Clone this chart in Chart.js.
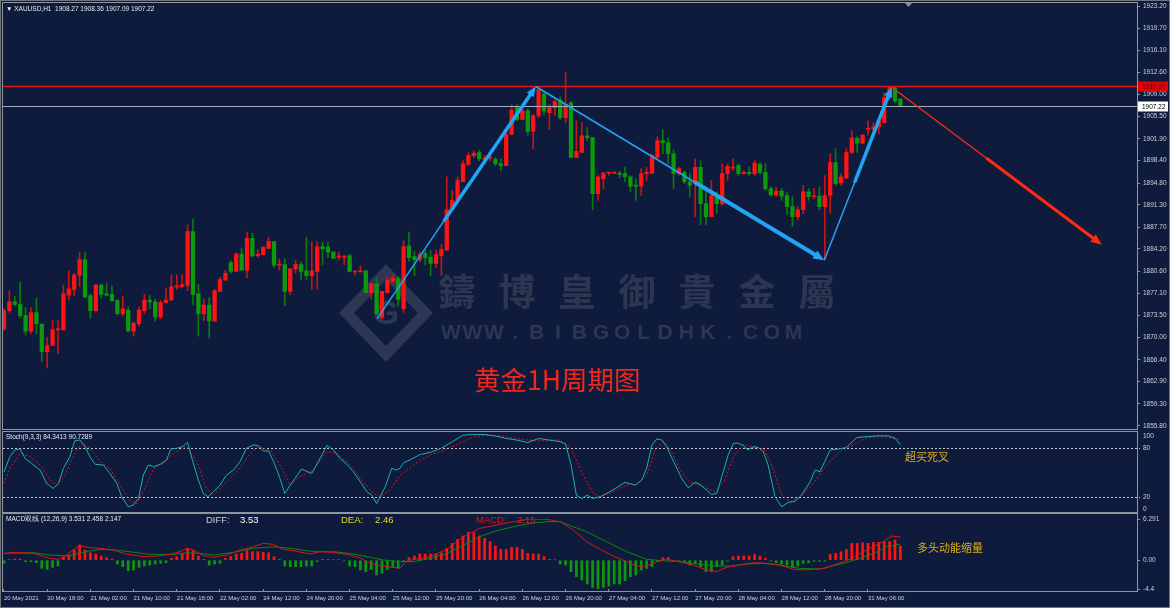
<!DOCTYPE html>
<html>
<head>
<meta charset="utf-8">
<script src="https://cdn.jsdelivr.net/npm/chart.js@4.4.1/dist/chart.umd.min.js"></script>
<style>
html,body{margin:0;padding:0;background:#0f1b3c;}
#wrap{position:relative;width:1170px;height:608px;overflow:hidden;background:#0f1b3c;}
#wrap canvas{position:absolute;left:0;}
.fr{position:absolute;box-sizing:border-box;border:1px solid #9096a0;pointer-events:none;}
</style>
</head>
<body>
<div id="wrap">
<canvas id="cMain" width="1170" height="432" style="top:0px"></canvas>
<canvas id="cStoch" width="1170" height="86" style="top:430px"></canvas>
<canvas id="cMacd" width="1170" height="96" style="top:512px"></canvas>
<div class="fr" style="left:0;top:0;width:1170px;height:608px;border-color:#6f747e"></div>
<div class="fr" style="left:2px;top:2px;width:1136px;height:428px"></div>
<div class="fr" style="left:2px;top:431px;width:1136px;height:82px"></div>
<div class="fr" style="left:2px;top:513px;width:1136px;height:79px"></div>
</div>
<script>
// ---------------- DATA ----------------
const opens=[1871.4,1874.3,1875.7,1875.3,1873.5,1871.0,1874.0,1872.1,1867.7,1868.7,
1871.2,1871.2,1876.8,1877.7,1880.0,1882.5,1876.7,1874.3,1878.4,1877.0,
1876.9,1875.9,1873.8,1874.4,1871.0,1872.2,1874.3,1876.0,1875.7,1873.3,
1875.6,1876.0,1878.1,1878.2,1878.4,1887.0,1877.0,1873.8,1875.2,1872.6,
1877.4,1879.2,1882.0,1880.6,1883.4,1880.8,1885.9,1883.1,1883.3,1884.3,
1885.4,1881.6,1881.7,1877.4,1881.0,1881.7,1880.7,1879.9,1880.6,1884.6,
1884.5,1883.7,1882.9,1882.9,1883.1,1880.5,1880.5,1880.7,1877.2,1878.6,
1873.2,1877.2,1879.0,1879.4,1874.6,1884.7,1883.0,1882.5,1883.5,1882.9,
1881.9,1883.1,1884.0,1890.5,1892.0,1895.0,1897.8,1899.2,1899.7,1898.6,
1898.8,1898.6,1897.9,1897.6,1902.6,1906.9,1905.0,1906.4,1903.1,1905.6,
1909.1,1906.1,1906.9,1908.1,1905.3,1907.7,1898.9,1899.7,1902.4,1902.1,
1893.1,1895.5,1896.4,1896.4,1896.4,1896.3,1895.8,1894.4,1894.3,1896.3,
1896.4,1898.9,1901.6,1901.3,1899.5,1896.3,1896.5,1895.0,1894.7,1897.3,
1891.5,1889.4,1892.6,1891.5,1896.3,1897.2,1897.6,1896.3,1896.5,1896.3,
1897.8,1896.5,1893.9,1892.9,1893.5,1892.8,1891.0,1889.4,1890.5,1893.4,
1892.6,1892.7,1891.0,1892.8,1898.1,1894.8,1895.6,1899.7,1902.0,1901.2,
1903.4,1903.5,1903.8,1904.5,1908.5,1910.1,1908.27];
const highs=[1874.6,1877.5,1876.6,1878.9,1874.8,1874.8,1876.3,1872.2,1870.0,1872.7,
1872.7,1878.4,1880.7,1880.3,1883.7,1883.7,1877.0,1878.5,1878.5,1878.7,
1878.3,1876.1,1876.6,1874.9,1872.5,1874.9,1876.9,1876.8,1876.1,1875.9,
1877.9,1880.0,1880.0,1880.1,1888.1,1889.1,1878.5,1876.1,1876.4,1877.7,
1879.7,1880.8,1882.3,1883.6,1884.4,1886.9,1886.7,1884.1,1884.5,1886.1,
1885.4,1882.6,1882.6,1881.0,1882.4,1882.1,1886.1,1885.4,1885.4,1885.3,
1885.3,1883.8,1883.7,1883.1,1883.4,1880.7,1881.4,1880.7,1878.6,1879.7,
1877.4,1879.7,1880.1,1879.8,1885.5,1886.9,1883.8,1883.7,1884.1,1884.0,
1884.0,1884.9,1895.8,1893.6,1895.8,1898.4,1899.7,1900.0,1900.1,1899.2,
1899.2,1898.9,1898.7,1903.2,1907.4,1907.4,1906.9,1906.7,1905.8,1910.3,
1909.5,1907.4,1908.5,1908.7,1912.6,1907.9,1904.8,1904.5,1903.7,1902.1,
1896.0,1896.5,1896.5,1896.5,1896.7,1897.4,1896.0,1895.5,1897.1,1897.3,
1899.5,1902.2,1903.4,1902.1,1900.1,1897.3,1896.8,1896.3,1898.7,1898.4,
1894.2,1895.2,1893.4,1897.9,1897.9,1898.7,1897.9,1896.8,1897.3,1898.4,
1898.1,1897.9,1894.2,1894.1,1893.9,1893.4,1892.6,1891.0,1894.4,1893.9,
1893.9,1894.2,1896.0,1899.5,1900.3,1896.3,1900.3,1903.2,1902.2,1902.6,
1904.8,1904.5,1905.3,1909.3,1910.3,1910.3,1908.36];
const lows=[1871.1,1874.0,1875.1,1873.1,1870.4,1870.6,1870.6,1866.1,1865.1,1868.7,
1867.4,1871.2,1876.0,1876.7,1878.2,1876.3,1873.1,1874.0,1876.3,1876.8,
1875.8,1873.6,1873.4,1871.0,1870.2,1871.8,1873.8,1874.6,1872.6,1873.0,
1875.5,1875.9,1877.7,1878.0,1877.5,1875.3,1870.2,1872.7,1869.9,1872.6,
1877.4,1879.2,1880.3,1880.6,1880.8,1879.6,1882.9,1882.9,1883.3,1884.3,
1881.2,1880.8,1875.1,1876.9,1880.3,1879.3,1879.3,1877.7,1877.7,1881.7,
1882.8,1882.7,1882.5,1881.7,1880.5,1880.0,1880.5,1877.1,1876.1,1873.6,
1873.0,1877.2,1878.8,1875.0,1874.0,1882.2,1879.9,1882.1,1881.7,1879.9,
1881.2,1879.9,1884.0,1890.7,1891.5,1895.0,1897.6,1898.9,1898.4,1898.4,
1898.4,1897.6,1896.8,1897.6,1902.6,1904.8,1904.9,1902.5,1900.3,1905.3,
1905.8,1903.4,1905.6,1905.0,1904.5,1898.9,1898.9,1899.7,1901.6,1890.5,
1892.0,1893.9,1896.0,1896.3,1895.6,1895.0,1893.4,1892.0,1892.8,1895.2,
1896.3,1898.9,1899.5,1897.9,1893.9,1896.0,1894.7,1892.6,1889.4,1888.1,
1888.1,1889.4,1889.9,1891.2,1895.2,1896.8,1896.0,1896.2,1896.0,1896.0,
1896.3,1893.6,1892.8,1892.6,1892.0,1889.7,1887.8,1888.9,1889.9,1892.0,
1892.3,1890.5,1882.5,1889.9,1894.4,1894.4,1895.5,1899.5,1899.7,1901.1,
1902.5,1902.7,1902.7,1904.5,1908.2,1907.7,1907.09];
const closes=[1874.3,1875.7,1875.3,1873.5,1871.0,1874.0,1872.2,1867.7,1868.7,1871.2,
1871.3,1877.0,1877.8,1880.0,1882.5,1876.5,1874.3,1878.4,1876.9,1876.8,
1875.9,1873.8,1874.6,1871.0,1872.3,1874.4,1876.0,1875.7,1873.3,1875.6,
1876.0,1878.1,1878.2,1878.5,1887.0,1876.9,1873.8,1875.2,1872.7,1877.5,
1879.3,1880.3,1880.6,1883.4,1880.8,1885.9,1883.1,1883.4,1884.5,1885.4,
1881.6,1881.7,1877.4,1881.0,1881.7,1880.6,1879.9,1880.7,1884.6,1884.2,
1883.7,1882.7,1883.0,1883.0,1880.6,1880.6,1880.7,1877.2,1878.6,1873.8,
1877.4,1879.2,1879.5,1876.1,1884.6,1882.8,1882.5,1883.3,1882.8,1881.9,
1883.3,1884.1,1890.5,1892.0,1895.2,1897.9,1899.2,1899.6,1898.7,1898.8,
1899.0,1897.9,1897.6,1902.6,1906.5,1905.0,1906.4,1903.1,1905.6,1909.8,
1906.4,1906.9,1907.9,1905.3,1907.4,1898.9,1899.9,1902.4,1902.1,1893.1,
1895.8,1896.4,1896.5,1896.5,1896.2,1895.8,1894.3,1894.3,1896.3,1896.5,
1899.2,1901.6,1901.3,1899.5,1896.3,1897.1,1895.0,1894.4,1897.3,1891.5,
1889.4,1892.8,1891.5,1896.3,1897.5,1897.3,1896.3,1896.5,1896.3,1898.0,
1896.5,1893.9,1892.9,1893.5,1892.7,1891.0,1889.4,1890.5,1893.4,1892.6,
1892.7,1891.0,1892.8,1898.1,1894.7,1895.8,1899.7,1902.0,1901.2,1902.5,
1903.6,1903.8,1904.8,1908.5,1910.2,1908.0,1907.22];

const priceTicks=[1923.20,1919.70,1916.10,1912.60,1909.00,1905.50,1901.90,1898.40,1894.80,1891.30,
1887.70,1884.20,1880.60,1877.10,1873.50,1870.00,1866.40,1862.90,1859.30,1855.80];
const xTickLabels=['20 May 2021','20 May 18:00','21 May 02:00','21 May 10:00','21 May 18:00','22 May 02:00',
'24 May 12:00','24 May 20:00','25 May 04:00','25 May 12:00','25 May 20:00','26 May 04:00','26 May 12:00',
'26 May 20:00','27 May 04:00','27 May 12:00','27 May 20:00','28 May 04:00','28 May 12:00','28 May 20:00','31 May 06:00'];

const macdHist=[-0.48,0.1,0.18,0.18,-0.23,-0.23,-0.38,-1.25,-1.40,-1.09,
-0.89,0.54,0.79,1.55,2.32,1.55,1.14,0.94,0.64,0.38,
0.18,-0.58,-0.99,-1.60,-1.50,-1.09,-0.89,-0.74,-0.58,-0.48,
-0.38,0.28,0.54,1.04,1.81,1.45,0.64,0.13,-0.74,-0.58,
-0.48,0.28,0.54,0.94,1.04,1.45,1.30,1.30,1.20,1.14,
0.54,0.13,-0.89,-0.99,-0.99,-0.99,-0.89,-0.89,-0.23,0.13,
0.13,0.08,0.08,-0.08,-0.89,-0.99,-1.50,-1.75,-1.40,-2.26,
-2.01,-1.40,-1.09,-1.25,-0.13,0.38,0.64,0.94,0.94,0.94,
0.94,1.14,1.81,2.57,3.18,3.69,4.25,4.20,3.69,3.33,
2.83,2.16,1.65,1.65,1.96,1.96,1.65,1.04,0.94,0.94,
0.54,0.13,0.05,-0.58,-0.74,-1.75,-2.52,-3.03,-3.64,-4.15,
-4.40,-4.15,-3.94,-3.64,-3.64,-3.13,-2.52,-2.26,-1.50,-1.25,
-0.99,-0.23,0.38,0.38,-0.08,-0.08,-0.38,-0.74,-0.48,-0.99,
-1.75,-1.75,-0.99,-0.74,-0.13,0.54,0.64,0.64,0.64,0.89,
0.64,0.28,-0.13,-0.38,-0.58,-0.74,-1.09,-0.89,-0.48,-0.38,
-0.18,-0.18,-0.18,0.89,1.04,1.30,1.65,2.57,2.57,2.67,
2.57,2.72,2.72,2.83,2.83,3.08,2.147];
const diffPts=[[0,1.04],[1.7,1.2],[5.4,1.04],[8.5,0.28],[10.1,0.13],[11.6,0.79],[13.9,2.21],[15.9,1.91],[17.8,1.81],[20.2,1.55],
[22.7,0.94],[25.8,0.54],[28.3,0.64],[30.7,0.89],[32.6,1.3],[33.8,1.81],[35.1,1.55],[36.9,0.69],[38.8,0.43],[41.2,0.79],
[43.7,1.55],[46.2,2.06],[48,2.57],[49.9,2.42],[51.7,1.65],[53.6,1.45],[56.7,0.94],[58.5,1.3],[61,1.2],[63.5,0.89],
[65.9,0.38],[67.2,-0.23],[69,-0.74],[70.9,-0.99],[73.3,-1.2],[74.6,-0.1],[78.9,0.54],[82,1.65],[85.1,3.59],[88.1,4.86],
[91.2,5.37],[94.3,5.88],[97.4,6.29],[100.5,6.24],[103,5.88],[105.4,4.61],[107.9,2.83],[110.4,1.65],[112.8,0.64],[115.3,-0.23],
[117.2,-0.89],[119,-0.89],[120.9,-0.23],[122.7,0.13],[125.2,-0.23],[127.6,-0.74],[129.8,-1.4],[132,-1.75],[133.8,-1.09],[136.3,-0.74],
[138.8,-0.38],[141.2,-0.48],[143.7,-0.74],[146.2,-1.4],[148,-1.5],[149.9,-1.4],[152,-1.25],[154.2,-0.58],[156.7,0.13],[159.1,1.3],
[161,2.06],[162.8,2.83],[164.4,3.69],[166,3.53]];
const deaPts=[[0,1.04],[5.4,1.14],[8.5,0.79],[11.6,0.64],[15.3,1.3],[17.8,1.65],[20.9,1.55],[24,1.2],[27,0.89],[31.4,0.89],
[33.8,1.14],[36.3,1.04],[38.8,0.79],[42.5,1.2],[46.2,1.81],[49.9,2.06],[53,1.81],[57.3,1.3],[61,1.3],[64.7,0.94],
[67.2,0.54],[70.3,0.03],[73.3,-0.23],[75.8,-0.23],[78.9,0.28],[82,1.04],[85.1,2.32],[88.1,3.59],[91.2,4.5],[94.3,5.11],
[97.4,5.62],[100.5,5.88],[103,5.88],[105.4,5.11],[107.9,4.35],[111.6,2.83],[115.3,1.3],[119,0.13],[122.1,-0.08],[125.2,-0.23],
[128.3,-0.58],[131.4,-0.89],[134.4,-0.89],[137.5,-0.58],[140.6,-0.48],[143.7,-0.74],[147.4,-1.25],[151.1,-1.35],[152.3,-1.09],[155.4,-0.48],
[158.5,0.28],[161,1.04],[163.5,2.06],[166,2.46]];

const stochK=[[0,51],[1.1,69.6],[2,77.8],[3,79.1],[3.9,67.5],[5.1,61.3],[6.7,53],[7.9,36.5],[9.1,30.3],[10.1,36.5],
[11,55.1],[12.2,69.6],[13.1,89],[14.1,90.2],[15,82],[15.9,69.6],[16.9,60.1],[18.4,59.2],[19.6,48.9],[20.9,36.5],
[21.8,20],[23,7.6],[23.9,9.7],[24.9,17.9],[25.8,46.8],[26.7,59.2],[27.7,57.2],[28.9,60.1],[30.1,65.4],[30.9,79.1],
[32,79.9],[33.1,82],[34,87.3],[34.8,67.5],[36,40.7],[36.9,24.1],[37.8,20],[38.8,26.2],[40,34.5],[41.2,46.8],
[42.5,53],[43.7,63.4],[44.9,79.9],[46.2,84],[47.1,83.2],[48,76.6],[49,76.6],[50.2,59.2],[51.1,42.7],[52,24.1],
[53,34.5],[53.9,42.7],[55.1,54.3],[57,48.9],[58.2,63.4],[59.8,83.2],[61,77.8],[62.2,67.5],[63.5,60.1],[64.7,51],
[66.2,36.5],[67.2,26.2],[68.1,22.1],[69,11.7],[70.6,32.4],[71.8,55.1],[72.7,53],[73.3,55.1],[74,62],[75,65],
[77,72],[79,75],[81,80],[83,88],[85,96],[87,97],[89,97],[91,95],[93,92],[95,90],
[97,87],[99,92],[101,90],[103,88],[104,85],[105,60],[106,22],[107,18],[108,22],[109,18],
[110.4,20],[112.2,26.2],[115,37.8],[116.9,34.5],[118.1,40.7],[119,55.1],[120,84],[120.9,91.5],[121.8,90.2],[122.7,82],
[124,63.4],[125.5,42.7],[126.7,31.2],[128,37.8],[128.9,35.3],[130.1,28.3],[131,22.9],[132,24.1],[133.2,51],[134.1,71.6],
[135.1,86.1],[136,86.1],[136.9,83.2],[137.8,77.8],[138.8,82],[139.7,80.7],[140.6,75.8],[141.5,59.2],[142.8,20],[144,7.6],
[145.2,13],[146.5,14.6],[147.7,22.1],[149.3,38.6],[150.2,53],[151.1,51],[153,77.8],[154.5,79.1],[156,80.7],[157.9,93.1],
[159.8,94.3],[161.6,95.2],[163.8,95.2],[165,92.3],[166,84.34]];
const stochD=[[0,36.5],[1.1,55.1],[3,73.7],[4.8,69.6],[6.7,59.2],[8.5,40.7],[9.8,34.5],[11.3,46.8],[12.8,69.6],[14.4,86.1],
[15.9,79.9],[17.8,63.4],[19.6,55.1],[21.5,34.5],[23.3,15.9],[24.6,11.7],[25.8,26.2],[27.7,55.1],[29.5,61.3],[31.4,73.7],
[33.8,82],[35.7,63.4],[37.5,30.3],[38.8,22.1],[40.6,34.5],[43.1,51],[45.6,73.7],[47.1,82],[49.3,77.8],[51.1,59.2],
[53,34.5],[54.8,44.8],[57.3,53],[59.8,75.8],[61.6,73.7],[64.1,59.2],[66.5,38.6],[68.4,24.1],[69.6,20],[71.5,28.3],
[73.3,46.8],[75,55],[77,65],[79,72],[81,76],[83,82],[85,88],[87,94],[89,96],[91,96],
[93,94],[95,92],[97,90],[99,89],[101,90],[103,90],[105,80],[107,50],[109,25],[110.4,20],
[112.8,26.2],[115.3,34.5],[117.2,35.3],[119,46.8],[120.6,77.8],[122.1,89],[123.6,75.8],[125.2,53],[127,38.6],[129.5,32.4],
[131.7,26.2],[133.5,40.7],[135.1,69.6],[136.9,84.8],[138.8,80.7],[140.6,79.9],[142.2,59.2],[144,22.1],[145.6,13.8],[147.4,20],
[149.9,36.5],[152.3,59.2],[154.8,75.8],[157.3,84],[159.8,93.1],[162.8,94.3],[164.7,92.3],[166,90.73]];
const stochLevels=[20,80];

const bluePath=[[69.1,1873.0],[98.5,1910.3],[151.9,1882.4],[164.4,1910.2]];
const redPath=[[164.4,1910.2],[203.3,1884.9]];
const resistanceLevel=1910.30, bidLevel=1907.22;

// ---------------- HELPERS ----------------
const XMIN=-0.185, XMAX=209.815;
const FONT='"Liberation Sans", Arial, sans-serif';
const CJK='"Noto Sans CJK SC", sans-serif';
const idx=opens.map((_,i)=>i);
const up=idx.map(i=>closes[i]>=opens[i]);
const C_UP='#ff1414', C_DN='#0c990c', W_UP='#c81414', W_DN='#0a7a0a';
const baseOpts={responsive:false,animation:false,events:[],plugins:{legend:{display:false},tooltip:{enabled:false}}};

function seg(ctx,x1,y1,x2,y2){ctx.beginPath();ctx.moveTo(x1,y1);ctx.lineTo(x2,y2);ctx.stroke();}
function drawArrow(ctx,x1,y1,x2,y2,color,w1,w2,frac,head){
  const dx=x2-x1,dy=y2-y1,L=Math.hypot(dx,dy),ux=dx/L,uy=dy/L;
  const ex=x2-ux*head*0.7,ey=y2-uy*head*0.7;
  ctx.strokeStyle=color;ctx.fillStyle=color;ctx.lineCap='butt';
  ctx.lineWidth=w1;seg(ctx,x1,y1,ex,ey);
  ctx.lineWidth=w2;seg(ctx,x1+dx*frac,y1+dy*frac,ex,ey);
  ctx.beginPath();ctx.moveTo(x2,y2);
  ctx.lineTo(x2-ux*head-uy*head*0.42,y2-uy*head+ux*head*0.42);
  ctx.lineTo(x2-ux*head+uy*head*0.42,y2-uy*head-ux*head*0.42);
  ctx.closePath();ctx.fill();
}

// ---------------- MAIN ----------------
const mainAnnot={id:'mainAnnot',
  beforeDatasetsDraw(c){
    const ctx=c.ctx;ctx.save();
    const cx=386,cy=313;
    ctx.fillStyle='rgba(150,155,172,0.22)';
    ctx.beginPath();
    ctx.moveTo(cx-47,cy);ctx.lineTo(cx,cy-49);ctx.lineTo(cx+47,cy);ctx.lineTo(cx,cy+49);ctx.closePath();
    ctx.moveTo(cx-32,cy);ctx.lineTo(cx,cy+33);ctx.lineTo(cx+32,cy);ctx.lineTo(cx,cy-33);ctx.closePath();
    ctx.fill('evenodd');
    ctx.font='bold 34px '+FONT;ctx.textAlign='center';ctx.textBaseline='middle';
    ctx.fillText('G',cx,cy+2);
    ctx.fillStyle='rgba(125,128,140,0.27)';
    ctx.font='bold 37px "Noto Sans CJK TC", sans-serif';
    ['鑄','博','皇','御','貴','金','屬'].forEach((ch,k)=>ctx.fillText(ch,457+k*60,292));
    ctx.font='bold 21px '+FONT;
    'WWW.BIBGOLDHK.COM'.split('').forEach((ch,k)=>ctx.fillText(ch,451+k*21.4,333));
    ctx.restore();
  },
  afterDatasetsDraw(c){
    const ctx=c.ctx,a=c.chartArea,xs=c.scales.x,ys=c.scales.y;
    const P=p=>[xs.getPixelForValue(p[0]),ys.getPixelForValue(p[1])];
    ctx.save();
    const yb=Math.round(ys.getPixelForValue(bidLevel))+0.5;
    ctx.strokeStyle='#a9b0bc';ctx.lineWidth=1;seg(ctx,a.left,yb,a.right,yb);
    const yr=ys.getPixelForValue(resistanceLevel);
    ctx.strokeStyle='#e4121a';ctx.lineWidth=1.6;seg(ctx,a.left,yr,a.right,yr);
    const b=bluePath.map(P), r=redPath.map(P);
    drawArrow(ctx,b[0][0],b[0][1],b[1][0],b[1][1],'#22a4f5',1.5,3.5,0.42,10);
    drawArrow(ctx,b[1][0],b[1][1],b[2][0],b[2][1],'#22a4f5',1.6,4,0.55,11);
    drawArrow(ctx,b[2][0],b[2][1],b[3][0],b[3][1],'#22a4f5',1.5,3.5,0.45,10);
    drawArrow(ctx,r[0][0],r[0][1],r[1][0],r[1][1],'#ff2a12',1.3,3,0.45,11);
    ctx.font='6.5px '+FONT;ctx.textBaseline='middle';ctx.textAlign='left';
    ctx.fillStyle='#e80000';ctx.fillRect(1138,yr-5,30,10);
    ctx.fillStyle='#5a0000';ctx.fillText(resistanceLevel.toFixed(2),1142,yr+0.5);
    ctx.fillStyle='#ffffff';ctx.fillRect(1138,yb-5,30,10);
    ctx.fillStyle='#000000';ctx.fillText(bidLevel.toFixed(2),1142,yb+0.5);
    ctx.fillStyle='#f0281e';ctx.font='26.5px '+CJK;ctx.textBaseline='middle';
    ctx.fillText('黄金1H周期图',474,380);
    ctx.fillStyle='#e6eaf0';ctx.font='6.5px '+FONT;
    ctx.fillText('▼ XAUUSD,H1  1908.27 1908.36 1907.09 1907.22',6,9);
    ctx.fillStyle='#8a909c';
    ctx.beginPath();ctx.moveTo(905,3);ctx.lineTo(912,3);ctx.lineTo(908.5,7);ctx.closePath();ctx.fill();
    ctx.restore();
  }};

new Chart(document.getElementById('cMain'),{
  type:'bar',
  data:{datasets:[
    {data:idx.map(i=>({x:i,y:[opens[i],closes[i]]})),backgroundColor:up.map(u=>u?C_UP:C_DN),barThickness:3.6,minBarLength:1,grouped:false,order:0},
    {data:idx.map(i=>({x:i,y:[lows[i],highs[i]]})),backgroundColor:up.map(u=>u?W_UP:W_DN),barThickness:1,grouped:false,order:1}
  ]},
  options:Object.assign({},baseOpts,{
    layout:{padding:{left:3,right:0,top:4,bottom:4}},
    scales:{
      x:{type:'linear',min:XMIN,max:XMAX,offset:false,display:false,grid:{offset:false}},
      y:{position:'right',min:1855.8,max:1923.2,
        afterFit(s){s.width=33;},
        afterBuildTicks(s){s.ticks=priceTicks.map(v=>({value:v}));},
        ticks:{callback:v=>Number(v).toFixed(2),color:'#cdd1d9',font:{family:FONT,size:6.5,lineHeight:1},padding:3,autoSkip:false},
        grid:{drawOnChartArea:false,drawTicks:true,tickLength:3,color:'#9096a0'},border:{display:false}}
    }
  }),
  plugins:[mainAnnot]
});

// ---------------- STOCH ----------------
const stochAnnot={id:'stochAnnot',
  beforeDatasetsDraw(c){
    const ctx=c.ctx,a=c.chartArea,ys=c.scales.y;ctx.save();
    ctx.strokeStyle='#c4c9d2';ctx.lineWidth=1;ctx.setLineDash([2,2]);
    stochLevels.forEach(v=>{const y=Math.round(ys.getPixelForValue(v))+0.5;seg(ctx,a.left,y,a.right+3,y);});
    ctx.restore();
  },
  afterDraw(c){
    const ctx=c.ctx,ys=c.scales.y;ctx.save();
    ctx.fillStyle='#cdd1d9';ctx.font='6.5px '+FONT;ctx.textBaseline='middle';
    ctx.fillText('100',1143,ys.getPixelForValue(100)+4);
    ctx.fillText('80',1143,ys.getPixelForValue(80));
    ctx.fillText('20',1143,ys.getPixelForValue(20));
    ctx.fillText('0',1143,ys.getPixelForValue(0)-4);
    ctx.fillStyle='#e6eaf0';ctx.fillText('Stoch(9,3,3) 84.3413 90.7289',6,7);
    ctx.fillStyle='#dcab12';ctx.font='11px '+CJK;ctx.fillText('超买死叉',905,27);
    ctx.restore();
  }};
new Chart(document.getElementById('cStoch'),{
  type:'line',
  data:{datasets:[
    {data:stochK.map(p=>({x:p[0],y:p[1]})),borderColor:'#1fb0ad',borderWidth:1,pointRadius:0,tension:0},
    {data:stochD.map(p=>({x:p[0],y:p[1]})),borderColor:'#e0141e',borderWidth:1,borderDash:[2,2],pointRadius:0,tension:0}
  ]},
  options:Object.assign({},baseOpts,{
    layout:{padding:{left:3,right:0,top:2,bottom:3}},
    scales:{
      x:{type:'linear',min:XMIN,max:XMAX,display:false},
      y:{position:'right',min:0,max:100,afterFit(s){s.width=33;},ticks:{display:false},grid:{display:false},border:{display:false}}
    }
  }),
  plugins:[stochAnnot]
});

// ---------------- MACD ----------------
const macdAnnot={id:'macdAnnot',
  afterDraw(c){
    const ctx=c.ctx;ctx.save();ctx.textBaseline='middle';
    ctx.fillStyle='#e6eaf0';ctx.font='6.5px '+FONT;ctx.fillText('MACD双线 (12,26,9) 3.531 2.458 2.147',6,7);
    ctx.font='9.5px '+FONT;
    ctx.fillStyle='#c9d0de';ctx.fillText('DIFF:',206,8);
    ctx.fillStyle='#ffffff';ctx.fillText('3.53',240,8);
    ctx.fillStyle='#e8dc12';ctx.fillText('DEA:',341,8);ctx.fillText('2.46',375,8);
    ctx.fillStyle='#e01818';ctx.fillText('MACD:',476,8);ctx.fillText('2.15',517,8);
    ctx.fillStyle='#dcab12';ctx.font='11px '+CJK;ctx.fillText('多头动能缩量',917,36);
    ctx.restore();
  }};
const macdTickText={'6.291':'6.291','0':'0.00','-4.4':'-4.4'};
new Chart(document.getElementById('cMacd'),{
  type:'bar',
  data:{datasets:[
    {type:'line',data:diffPts.map(p=>({x:p[0],y:p[1]})),borderColor:'#e01414',borderWidth:1,pointRadius:0,tension:0,order:0},
    {type:'line',data:deaPts.map(p=>({x:p[0],y:p[1]})),borderColor:'#0c8a0c',borderWidth:1,pointRadius:0,tension:0,order:0},
    {data:idx.map(i=>({x:i,y:macdHist[i]})),backgroundColor:macdHist.map(v=>v>=0?'#ff1414':'#0c990c'),barThickness:2,grouped:false,order:1}
  ]},
  options:Object.assign({},baseOpts,{
    layout:{padding:{left:3,right:0,top:7,bottom:0}},
    scales:{
      x:{type:'linear',position:'bottom',min:XMIN,max:XMAX,offset:false,
        afterFit(s){s.height=19;},
        afterBuildTicks(s){s.ticks=xTickLabels.map((_,k)=>({value:k*8}));},
        ticks:{callback:(v,k)=>xTickLabels[k],align:'start',autoSkip:false,maxRotation:0,minRotation:0,color:'#cdd1d9',font:{family:FONT,size:6,lineHeight:1},padding:3},
        grid:{drawOnChartArea:false,drawTicks:true,tickLength:3,color:'#9096a0',offset:false},border:{display:false}},
      y:{position:'right',min:-4.4,max:6.291,
        afterFit(s){s.width=33;},
        afterBuildTicks(s){s.ticks=[-4.4,0,6.291].map(v=>({value:v}));},
        ticks:{callback:v=>macdTickText[String(v)]||String(v),color:'#cdd1d9',font:{family:FONT,size:6.5,lineHeight:1},padding:3,autoSkip:false},
        grid:{drawOnChartArea:false,drawTicks:true,tickLength:3,color:'#9096a0'},border:{display:false}}
    }
  }),
  plugins:[macdAnnot]
});
</script>
</body>
</html>
